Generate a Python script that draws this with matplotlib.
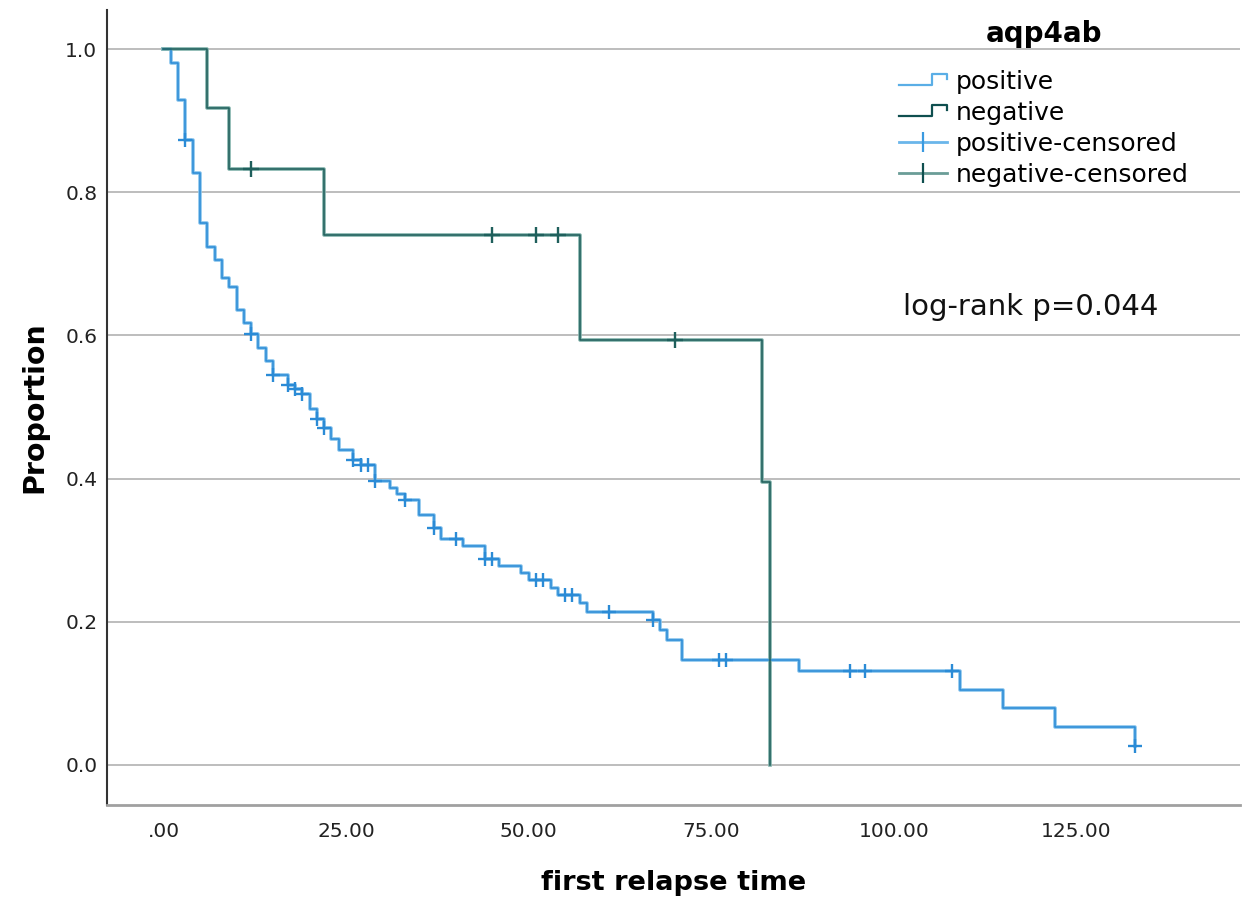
import matplotlib
matplotlib.use('Agg')
import matplotlib.pyplot as plt
import numpy as np
from matplotlib.lines import Line2D
from matplotlib.legend_handler import HandlerBase

# step curves (time, proportion after the drop)
pos_t = [0, 1, 2, 3, 4, 5, 6, 7, 8, 9, 10, 11, 12, 13, 14, 15, 17, 18, 19, 20,
         21, 22, 23, 24, 26, 27, 29, 31, 32, 33, 35, 37, 38, 41, 44, 46, 49, 50,
         53, 54, 57, 58, 67, 68, 69, 71, 87, 109, 115, 122, 133]
pos_s = [1.0, 0.980, 0.929, 0.873, 0.827, 0.757, 0.724, 0.705, 0.680, 0.667,
         0.635, 0.617, 0.602, 0.583, 0.564, 0.545, 0.531, 0.525, 0.518, 0.497,
         0.483, 0.470, 0.455, 0.440, 0.426, 0.419, 0.396, 0.387, 0.379, 0.370,
         0.349, 0.331, 0.315, 0.306, 0.287, 0.278, 0.268, 0.258, 0.247, 0.237,
         0.226, 0.214, 0.203, 0.189, 0.175, 0.147, 0.131, 0.105, 0.079, 0.053,
         0.026]
pos_cens = [3, 12, 15, 17, 18, 19, 21, 22, 26, 27, 28, 29, 33, 37, 40, 44, 45,
            51, 52, 55, 56, 61, 67, 76, 77, 94, 96, 108, 133]

neg_t = [0, 6, 9, 22, 57, 82, 83]
neg_s = [1.0, 0.917, 0.833, 0.740, 0.593, 0.395, 0.0]
neg_cens = [12, 45, 51, 54, 70]

xticks = [0, 25, 50, 75, 100, 125]
xtick_labels = ['.00', '25.00', '50.00', '75.00', '100.00', '125.00']
yticks = [0.0, 0.2, 0.4, 0.6, 0.8, 1.0]
ytick_labels = ['0.0', '0.2', '0.4', '0.6', '0.8', '1.0']

pos_col = '#2b8bd6'
pos_halo = '#86c3ec'
neg_col = '#1f5f5c'
neg_halo = '#7fb0a9'


def level_at(tt, ss, c):
    idx = np.searchsorted(tt, c, side='right') - 1
    return np.array(ss)[idx]


class StepHandler(HandlerBase):
    def create_artists(self, legend, orig_handle, xdescent, ydescent,
                       width, height, fontsize, trans):
        xs = np.array([0, 0.68, 0.68, 1.0, 1.0]) * width - xdescent
        ys = np.array([0.2, 0.2, 0.85, 0.85, 0.55]) * height - ydescent
        ln = Line2D(xs, ys, color=orig_handle.get_color(),
                    lw=orig_handle.get_linewidth())
        ln.set_transform(trans)
        return [ln]


fig = plt.figure(figsize=(12.46, 9.08), dpi=100)
ax = fig.add_axes([0.0859, 0.1134, 0.9093, 0.8756])

for y in yticks:
    ax.axhline(y, color='#b8b8b8', lw=1.3, zorder=0)

ax.step(pos_t, pos_s, where='post', color=pos_halo, lw=2.6, zorder=2)
ax.step(pos_t, pos_s, where='post', color=pos_col, lw=1.1, zorder=3)
ax.step(neg_t, neg_s, where='post', color=neg_halo, lw=2.6, zorder=2)
ax.step(neg_t, neg_s, where='post', color=neg_col, lw=1.1, zorder=3)

ax.plot(pos_cens, level_at(pos_t, pos_s, pos_cens), ls='none', marker='+',
        ms=10, mew=1.7, color=pos_col, zorder=4)
ax.plot(neg_cens, level_at(neg_t, neg_s, neg_cens), ls='none', marker='+',
        ms=11, mew=1.7, color=neg_col, zorder=4)

ax.set_xlim(-7.73, 147.4)
ax.set_ylim(-0.056, 1.0545)
ax.set_xticks(xticks)
ax.set_xticklabels(xtick_labels)
ax.set_yticks(yticks)
ax.set_yticklabels(ytick_labels)
ax.tick_params(length=0, labelsize=14.5, labelcolor='#222222')
ax.tick_params(axis='x', pad=12)
ax.tick_params(axis='y', pad=7)

for s in ['top', 'right']:
    ax.spines[s].set_visible(False)
ax.spines['left'].set_color('#333333')
ax.spines['left'].set_linewidth(1.5)
ax.spines['bottom'].set_color('#a0a0a0')
ax.spines['bottom'].set_linewidth(2)

ax.set_xlabel('first relapse time', fontsize=19.6, fontweight='bold', labelpad=21)
ax.set_ylabel('Proportion', fontsize=20.5, fontweight='bold', labelpad=12)

ax.text(101.2, 0.640, 'log-rank p=0.044', fontsize=21, ha='left',
        va='center', color='#111111')

h_pos = Line2D([], [], color='#5aaee6', lw=1.6)
h_neg = Line2D([], [], color='#0f4f4f', lw=1.6)
h_pc = Line2D([], [], color='#6ab6ea', lw=2, marker='|', ms=15, mew=1.6,
              markeredgecolor='#3a9ae0')
h_nc = Line2D([], [], color='#6a9d97', lw=2, marker='|', ms=15, mew=1.6,
              markeredgecolor='#0f4f4f')
leg = fig.legend([h_pos, h_neg, h_pc, h_nc],
                 ['positive', 'negative', 'positive-censored', 'negative-censored'],
                 title='aqp4ab', loc='upper center',
                 bbox_to_anchor=(1044 / 1246, 1 - 7 / 908),
                 frameon=False, fontsize=18, handlelength=1.92,
                 handletextpad=0.36, labelspacing=0.28, borderpad=0,
                 handler_map={h_pos: StepHandler(), h_neg: StepHandler()})
leg.get_title().set_fontsize(20)
leg.get_title().set_fontweight('bold')
leg._legend_box.sep = 16

fig.savefig('out.png', dpi=100)
